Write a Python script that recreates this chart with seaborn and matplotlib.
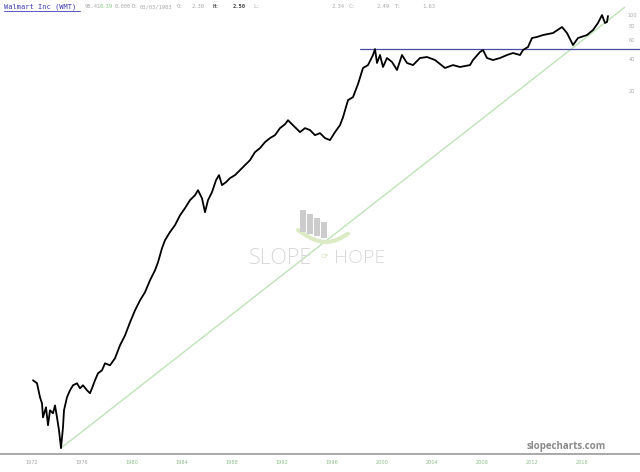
import numpy as np
import pandas as pd
import matplotlib
matplotlib.use("Agg")
import matplotlib.pyplot as plt
import matplotlib.transforms as mtransforms
import seaborn as sns
from matplotlib.patches import Rectangle

# ---- data (decimal year, adjusted price) ----
years = [1972.08, 1972.40, 1972.64, 1972.80, 1972.88, 1973.12, 1973.28, 1973.44, 1973.68, 1973.84,
         1974.00, 1974.16, 1974.32, 1974.48, 1974.56, 1974.80, 1975.04, 1975.28, 1975.60, 1975.84,
         1976.08, 1976.40, 1976.64, 1976.80, 1977.04, 1977.28, 1977.60, 1977.84, 1978.24, 1978.64,
         1979.04, 1979.44, 1979.84, 1980.24, 1980.64, 1981.04, 1981.44, 1981.84, 1982.08, 1982.40,
         1982.64, 1983.04, 1983.44, 1983.84, 1984.24, 1984.64, 1985.04, 1985.28, 1985.60, 1985.84,
         1986.08, 1986.40, 1986.72, 1986.96, 1987.20, 1987.52, 1987.84, 1988.24, 1988.64, 1989.04,
         1989.44, 1989.84, 1990.24, 1990.64, 1991.04, 1991.44, 1991.84, 1992.24, 1992.48, 1992.80,
         1993.12, 1993.44, 1993.84, 1994.24, 1994.64, 1995.04, 1995.44, 1995.84, 1996.24, 1996.64,
         1996.88, 1997.28, 1997.68, 1998.08, 1998.48, 1998.88, 1999.28, 1999.44, 1999.60, 1999.84,
         2000.08, 2000.40, 2000.80, 2001.20, 2001.60, 2002.00, 2002.48, 2003.04, 2003.60, 2004.24,
         2005.04, 2005.68, 2006.24, 2007.04, 2007.28, 2007.84, 2008.08, 2008.40, 2008.88, 2009.44,
         2010.00, 2010.48, 2011.04, 2011.28, 2011.68, 2012.00, 2012.40, 2012.88, 2013.68, 2014.40,
         2014.80, 2015.28, 2015.68, 2016.40, 2016.88, 2017.28, 2017.60, 2017.84, 2018.00, 2018.08]
prices = [0.0432, 0.0405, 0.0301, 0.0264, 0.0196, 0.0243, 0.0166, 0.0228, 0.0214, 0.0253,
          0.0196, 0.0149, 0.0102, 0.0159, 0.0228, 0.0301, 0.0349, 0.0388, 0.0405, 0.0364,
          0.0388, 0.0349, 0.0328, 0.0364, 0.0432, 0.0501, 0.0534, 0.0619, 0.0594, 0.0689,
          0.0909, 0.112, 0.148, 0.191, 0.236, 0.281, 0.362, 0.448, 0.531, 0.716,
          0.849, 1.01, 1.17, 1.44, 1.68, 1.99, 2.21, 2.46, 2.07, 1.54,
          1.99, 2.36, 3.04, 3.39, 2.74, 2.92, 3.18, 3.39, 3.77, 4.19,
          4.66, 5.53, 6.02, 6.84, 7.45, 7.93, 9.21, 10.0, 10.9, 10.0,
          9.21, 8.46, 9.21, 8.83, 7.93, 8.28, 7.45, 7.14, 8.46, 9.82,
          11.6, 16.7, 17.8, 23.5, 33.1, 35.2, 43.6, 49.5, 36.8, 43.6,
          33.8, 40.9, 37.6, 31.7, 43.6, 36.8, 35.2, 40.9, 41.8, 39.2,
          33.1, 35.2, 33.8, 35.2, 39.2, 46.5, 48.5, 40.9, 39.2, 40.9,
          43.6, 45.5, 43.6, 48.5, 51.7, 62.6, 64.0, 66.7, 69.6, 79.1,
          69.6, 53.9, 62.6, 66.7, 74.2, 86.2, 102.0, 86.2, 88.0, 100.0]

trend_years = [1974.32, 2019.40]
trend_prices = [0.0102, 120.0]
resistance_years = [1998.24, 2020.64]
resistance_prices = [49.6, 49.6]

year_ticks = [1972, 1976, 1980, 1984, 1988, 1992, 1996, 2000, 2004, 2008, 2012, 2016]
price_ticks = [100, 80, 60, 40, 20]

header_title = "Walmart Inc (WMT)"
header_items = ["98.41", "0.39", "0.000", "D:", "03/03/1983", "O:", "2.30", "H:", "2.50",
                "L:", "2.34", "C:", "2.49", "T:", "1.63"]

df = pd.DataFrame({"year": years, "price": prices})

sns.set_theme(style="white")
plt.rcParams['font.family'] = ['DejaVu Sans']

W, H = 640, 472
fig = plt.figure(figsize=(6.4, 4.72), dpi=100)
fig.patch.set_facecolor("white")
ax = fig.add_axes([0, 18 / H, 1, 454 / H])
ax.set_facecolor("white")


def fx(x):
    return x / W


def fy(y):
    return 1 - y / H


# watermark (behind data)
for i, (x0, top) in enumerate([(300, 210), (307, 214), (314, 218), (321, 222)]):
    bottom = 232 + i * 2
    fig.patches.append(Rectangle((fx(x0), fy(bottom)), 5.5 / W, (bottom - top) / H,
                                 transform=fig.transFigure, facecolor="#cccccc",
                                 edgecolor="none", zorder=0))
t = np.linspace(0, 1, 30)
sx = 298 + 50 * t
sy = 230 + 12 * np.sin(np.pi * t * 0.9)
fig.lines.append(plt.Line2D(fx(sx), fy(sy), transform=fig.transFigure, color="#dcebc4",
                            lw=3, solid_capstyle="round", zorder=0))
fig.text(fx(249), fy(258), "SLOPE", fontsize=15.5, color="#d8d8d8", ha="left", va="center",
         fontweight="light", family="Open Sans")
fig.text(fx(325), fy(257), "OF", fontsize=4.5, color="#cfe2b4", ha="center", va="center")
fig.text(fx(334), fy(258), "HOPE", fontsize=14, color="#d8d8d8", ha="left", va="center",
         fontweight="light", family="Open Sans")

ax.set_yscale("log")
ax.set_xlim(1969.44, 2020.64)
ax.set_ylim(0.0090, 140.5)

ax.plot(trend_years, trend_prices, color="#bfe3b8", lw=1.0, zorder=2)
ax.plot(resistance_years, resistance_prices, color="#4b4ba6", lw=0.9, zorder=2)
sns.lineplot(data=df, x="year", y="price", ax=ax, color="black", lw=1.3, zorder=3,
             estimator=None, sort=False)

ax.set_xlabel("")
ax.set_ylabel("")
ax.set_xticks([])
ax.set_yticks([], minor=False)
ax.yaxis.set_minor_locator(matplotlib.ticker.NullLocator())
for s in ["top", "left", "right"]:
    ax.spines[s].set_visible(False)
ax.spines["bottom"].set_color("#9a9a9a")
ax.spines["bottom"].set_linewidth(1.2)

trans_x = mtransforms.blended_transform_factory(ax.transData, fig.transFigure)
for yr in year_ticks:
    col = "#a8a8a8" if yr < 1980 else "#8cc08c"
    ax.text(yr, fy(462), str(yr), transform=trans_x, fontsize=3.6, color=col,
            ha="center", va="center")
trans_y = mtransforms.blended_transform_factory(fig.transFigure, ax.transData)
for p in price_ticks:
    ax.text(fx(632), p, str(p), transform=trans_y, fontsize=3.6, color="#aaaaaa",
            ha="center", va="center")

# header
fig.text(fx(4), fy(7), header_title, fontsize=5.0, color="#3c3cb4", ha="left", va="center",
         family="DejaVu Sans Mono")
fig.lines.append(plt.Line2D([fx(4), fx(80)], [fy(11), fy(11)], transform=fig.transFigure,
                            color="#3c3cb4", lw=0.6))
hx = [85, 100, 115, 132, 140, 177, 192, 213, 233, 253, 332, 349, 377, 395, 422]
hcol = ["#aaaaaa", "#88c888", "#aaaaaa", "#aaaaaa", "#aaaaaa", "#aaaaaa", "#aaaaaa",
        "#555555", "#444444", "#aaaaaa", "#aaaaaa", "#aaaaaa", "#aaaaaa", "#aaaaaa", "#aaaaaa"]
hw = ["normal"] * 7 + ["bold", "bold"] + ["normal"] * 6
for x0, s, c, w in zip(hx, header_items, hcol, hw):
    fig.text(fx(x0), fy(7), s, fontsize=4.0, color=c, fontweight=w, ha="left", va="center",
             family="DejaVu Sans Mono")

fig.text(fx(566), fy(446), "slopecharts.com", fontsize=7, color="#8a8a8a",
         fontweight="bold", ha="center", va="center", family="Open Sans")

fig.savefig("out.png", dpi=100, facecolor="white")
